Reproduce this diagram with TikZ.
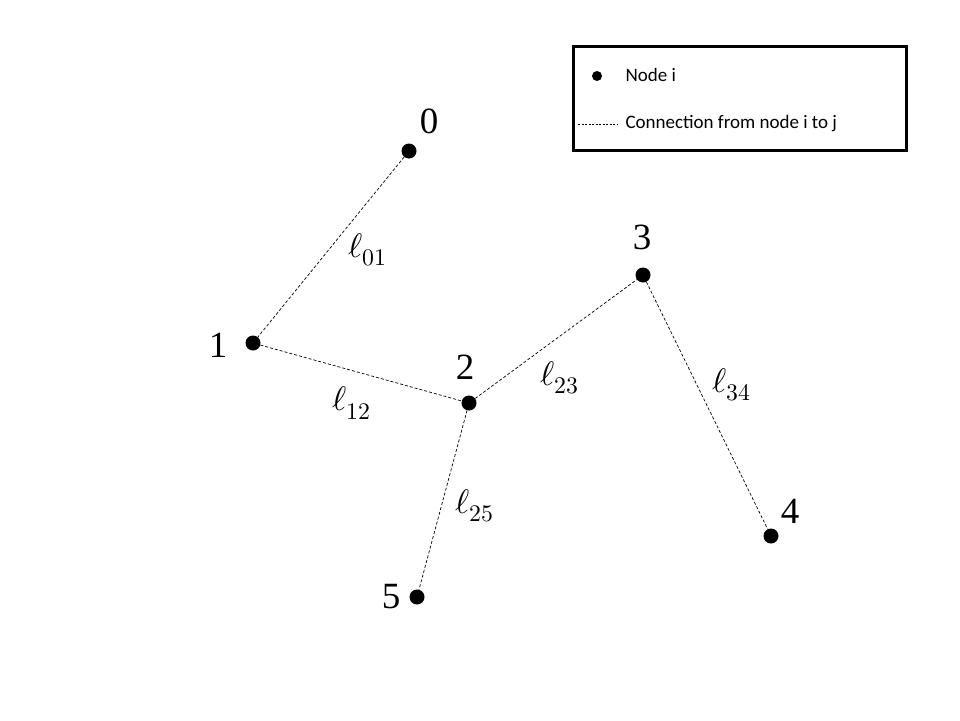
\documentclass[tikz,border=0pt]{standalone}
\usepackage{fontspec}
\usepackage{unicode-math}
\setmathfont{Latin Modern Math}
\setmainfont{Liberation Serif}
\newfontfamily\legfont{Carlito}
\begin{document}
\begin{tikzpicture}[x=1pt,y=-1pt,
  dot/.style={circle,fill=black,inner sep=0pt,minimum size=15pt},
  conn/.style={dashed,line width=0.7pt,dash pattern=on 3pt off 2pt},
  num/.style={font=\fontsize{37}{42}\selectfont},
  ell/.style={font=\fontsize{34}{38}\selectfont},
  leg/.style={font=\legfont\fontsize{19}{22}\selectfont,anchor=west}]
\useasboundingbox (0,0) rectangle (960,720);
\node[dot] (n0) at (409,151) {};
\node[dot] (n1) at (253,343) {};
\node[dot] (n2) at (469,403) {};
\node[dot] (n3) at (643,275) {};
\node[dot] (n4) at (771,536) {};
\node[dot] (n5) at (417,597) {};
\node[num] (t0) at (429,121) {0};
\node[num] (t1) at (218,345) {1};
\node[num] (t2) at (465,367) {2};
\node[num] (t3) at (642,237) {3};
\node[num] (t4) at (790,511) {4};
\node[num] (t5) at (391,597) {5};
\draw[conn] (n0) -- (n1);
\draw[conn] (n1) -- (n2);
\draw[conn] (n2) -- (n3);
\draw[conn] (n3) -- (n4);
\draw[conn] (n2) -- (n5);
\node[ell] (l01) at (368,250) {$\ell_{01}$};
\node[ell] (l12) at (352,403) {$\ell_{12}$};
\node[ell] (l23) at (560,378) {$\ell_{23}$};
\node[ell] (l34) at (732,385) {$\ell_{34}$};
\node[ell] (l25) at (475,506) {$\ell_{25}$};
\node[draw,line width=2.5pt,minimum width=333pt,minimum height=104pt,anchor=north west] (leg) at (572,45) {};
\node[circle,fill=black,inner sep=0pt,minimum size=10pt] (ld) at (597,76) {};
\node[leg] (lt1) at (622,75) {Node i};
\coordinate (la) at (578,124);
\coordinate (lb) at (617,124);
\draw[dashed,line width=0.6pt,dash pattern=on 2pt off 1.5pt] (la) -- (lb);
\node[leg] (lt2) at (622,124) {Connection from node i to j};
\end{tikzpicture}
\end{document}
